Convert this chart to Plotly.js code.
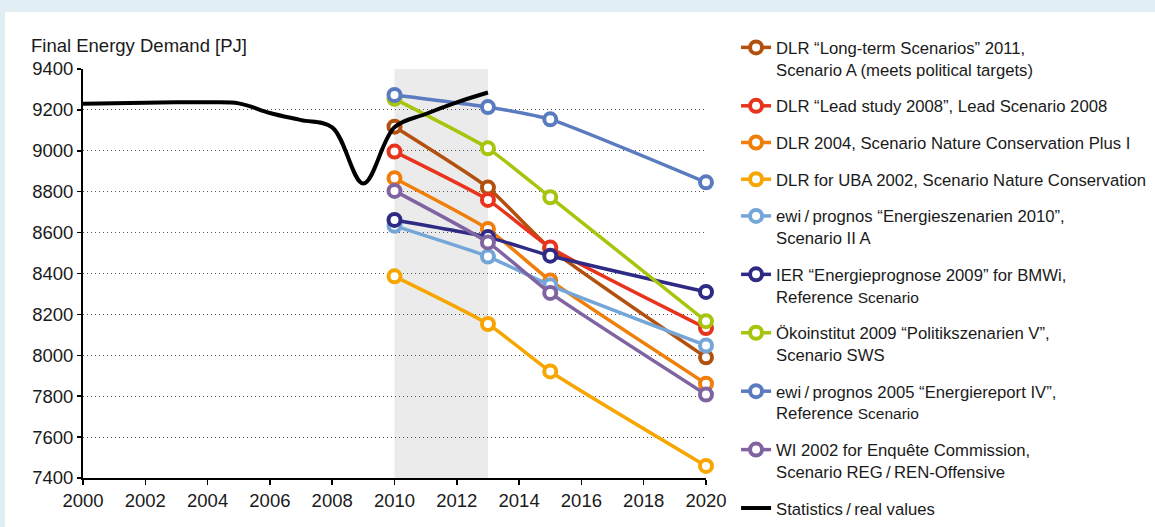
<!DOCTYPE html>
<html>
<head>
<meta charset="utf-8">
<script src="https://cdn.plot.ly/plotly-3.0.1.min.js"></script>
<style>
  html, body { margin: 0; padding: 0; background: #e1eff5; width: 1155px; height: 527px; overflow: hidden; }
  #chart { position: absolute; left: 5px; top: 12px; width: 1150px; height: 515px; background: #ffffff; }
</style>
</head>
<body>
<div id="chart"></div>
<script>
// ---- data ----
const histYears = [2000, 2001, 2002, 2003, 2004, 2005, 2006, 2007, 2008, 2009, 2010, 2011, 2012, 2013];
const histValues = [9230, 9233, 9235, 9237, 9237, 9232, 9185, 9150, 9115, 8840, 9115, 9180, 9237, 9285];

const scenarioYears = [2010, 2013, 2015, 2020];

const seriesNames = [
  'DLR “Long-term Scenarios” 2011,<br>Scenario A (meets political targets)',
  'DLR “Lead study 2008”, Lead Scenario 2008',
  'DLR 2004, Scenario Nature Conservation Plus I',
  'DLR for UBA 2002, Scenario Nature Conservation',
  'ewi\u2009/\u2009prognos “Energieszenarien 2010”,<br>Scenario II A',
  'IER “Energieprognose 2009” for BMWi,<br>Reference <span style="font-size:15.5px">Scenario</span>',
  'Ökoinstitut 2009 “Politikszenarien V”,<br>Scenario SWS',
  'ewi\u2009/\u2009prognos 2005 “Energiereport IV”,<br>Reference <span style="font-size:15.5px">Scenario</span>',
  'WI 2002 for Enquête Commission,<br>Scenario REG\u2009/\u2009REN-Offensive'
];
const dlr2011  = [9118, 8820, 8522, 7990];
const dlrLead  = [8996, 8760, 8527, 8133];
const dlr2004  = [8866, 8617, 8366, 7861];
const uba2002  = [8386, 8153, 7921, 7459];
const ewi2010  = [8633, 8483, 8342, 8048];
const ier2009  = [8662, 8578, 8487, 8310];
const oeko2009 = [9254, 9012, 8773, 8167];
const ewi2005  = [9273, 9214, 9154, 8846];
const wi2002   = [8804, 8552, 8305, 7808];
const seriesValues = [dlr2011, dlrLead, dlr2004, uba2002, ewi2010, ier2009, oeko2009, ewi2005, wi2002];

const histName = 'Statistics\u2009/\u2009real values';
const xTicks = [2000, 2002, 2004, 2006, 2008, 2010, 2012, 2014, 2016, 2018, 2020];
const yTicks = [7400, 7600, 7800, 8000, 8200, 8400, 8600, 8800, 9000, 9200, 9400];
const shadeRange = [2010, 2013];

// ---- styles ----
const colors = ['#b3500e', '#e8341c', '#f07e0a', '#f7a600', '#74a7d8', '#2f2a84', '#a6c50c', '#5a7bbf', '#8064a2'];
const FONT = '"Liberation Sans", Arial, Helvetica, sans-serif';

const traces = seriesValues.map((vals, i) => ({
  type: 'scatter',
  mode: 'lines+markers',
  x: scenarioYears,
  y: vals,
  name: seriesNames[i],
  legendgroup: 'g' + i,
  line: { color: colors[i], width: 3.5, shape: 'spline', smoothing: 0.5 },
  marker: { symbol: 'circle', size: 12, color: '#ffffff', line: { color: colors[i], width: 4 } },
  cliponaxis: false,
  hoverinfo: 'x+y'
}));

traces.push({
  type: 'scatter',
  mode: 'lines',
  x: histYears,
  y: histValues,
  name: histName,
  legendgroup: 'ghist',
  line: { color: '#000000', width: 4, shape: 'spline', smoothing: 1 },
  cliponaxis: false
});

const layout = {
  width: 1150,
  height: 515,
  margin: { l: 78, r: 449, t: 57, b: 49 },
  paper_bgcolor: '#ffffff',
  plot_bgcolor: '#ffffff',
  font: { family: FONT, size: 16.7, color: '#1a1a1a' },
  showlegend: true,
  legend: {
    xref: 'container', yref: 'container',
    x: 0.6357, xanchor: 'left',
    y: 0.965, yanchor: 'top',
    maxheight: 600,
    traceorder: 'grouped',
    tracegroupgap: 12,
    valign: 'top',
    font: { family: FONT, size: 16.7, color: '#1a1a1a' },
    bgcolor: 'rgba(0,0,0,0)'
  },
  xaxis: {
    range: [2000, 2020],
    tickvals: xTicks,
    ticktext: xTicks.map(String),
    ticks: 'outside', ticklen: 5, tickwidth: 1.5, tickcolor: '#000',
    showline: true, linecolor: '#000', linewidth: 2,
    showgrid: false, zeroline: false,
    tickfont: { family: FONT, size: 18.5, color: '#1a1a1a' }
  },
  yaxis: {
    range: [7400, 9400],
    tickvals: yTicks,
    ticktext: yTicks.map(String),
    ticks: 'outside', ticklen: 4, tickwidth: 1.5, tickcolor: '#000',
    showline: true, linecolor: '#000', linewidth: 2,
    showgrid: true, gridcolor: '#555', griddash: '1px,3px', gridwidth: 1,
    zeroline: false,
    tickfont: { family: FONT, size: 18.5, color: '#1a1a1a' }
  },
  shapes: [{
    type: 'rect', xref: 'x', yref: 'y',
    x0: shadeRange[0], x1: shadeRange[1], y0: 7400, y1: 9400,
    fillcolor: '#ebebeb', line: { width: 0 }, layer: 'below'
  }],
  annotations: [{
    text: 'Final Energy Demand [PJ]',
    xref: 'paper', yref: 'paper',
    x: -0.0867, xanchor: 'left',
    y: 1.0586, yanchor: 'middle',
    showarrow: false,
    font: { family: FONT, size: 18.5, color: '#1a1a1a' }
  }]
};

Plotly.newPlot('chart', traces, layout, { displayModeBar: false, staticPlot: true });
</script>
</body>
</html>
